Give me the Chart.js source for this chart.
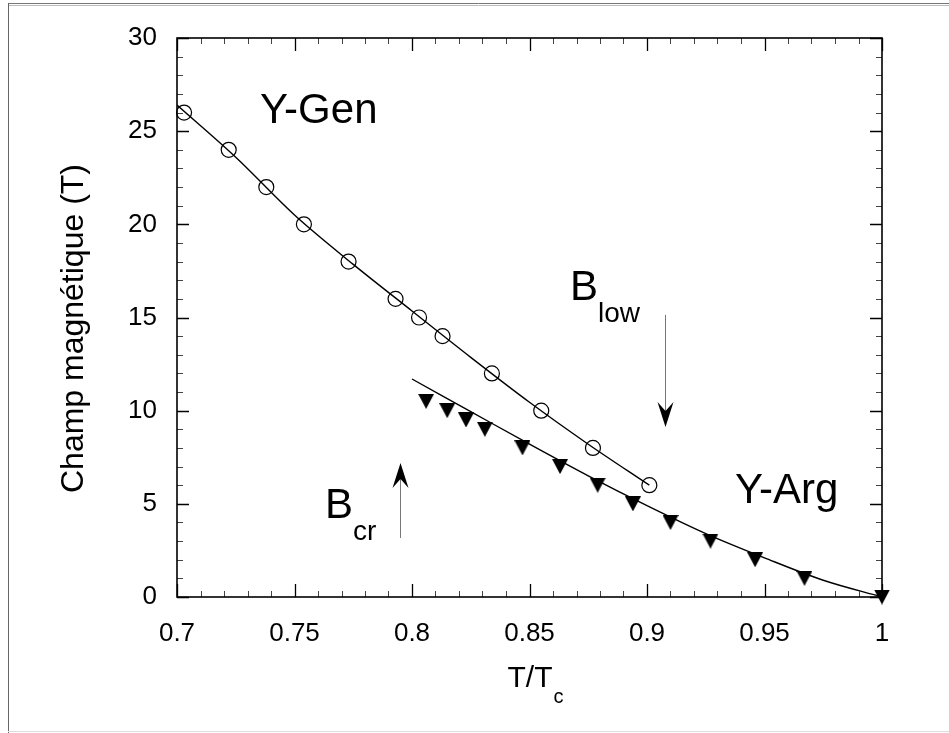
<!DOCTYPE html>
<html lang="fr">
<head>
<meta charset="UTF-8">
<title>Champ magnétique - Y-Gen / Y-Arg</title>
<script src="https://cdn.jsdelivr.net/npm/chart.js@4.4.0/dist/chart.umd.min.js"></script>
<style>
    html, body { margin: 0; padding: 0; background: #fff; }
    .chart-box { position: relative; width: 949px; height: 733px; }
</style>
</head>
<body>
<div class="chart-box"><canvas id="fieldChart"></canvas></div>
<script>
// Y-Gen measurements (open circles)
const genT = [0.703, 0.722, 0.738, 0.754, 0.773, 0.793, 0.803, 0.813, 0.834, 0.855, 0.877, 0.901];
const genB = [26, 24, 22, 20, 18, 16, 15, 14, 12, 10, 8, 6];

// Y-Arg measurements (filled down triangles)
const argT = [0.806, 0.815, 0.823, 0.831, 0.847, 0.863, 0.879, 0.894, 0.910, 0.927, 0.946, 0.967, 1.0];
const argB = [10.5, 10, 9.5, 9, 8, 7, 6, 5, 4, 3, 2, 1, 0];

// fit curves
const fitGenT = [0.7, 0.725, 0.75, 0.775, 0.8, 0.825, 0.85, 0.875, 0.901];
const fitGenB = [26.4, 23.6, 20.5, 17.85, 15.35, 12.86, 10.45, 8.2, 6.0];
const fitArgT = [0.8, 0.825, 0.85, 0.875, 0.9, 0.925, 0.95, 0.975, 1.0];
const fitArgB = [11.7, 9.95, 8.2, 6.5, 4.9, 3.4, 2.1, 0.9, 0.0];

// axis ticks
const xTicks = [0.7, 0.75, 0.8, 0.85, 0.9, 0.95, 1];
const yTicks = [0, 5, 10, 15, 20, 25, 30];

const FONT = "'Liberation Sans', Arial, Helvetica, sans-serif";

const pts = (xs, ys) => xs.map((x, i) => ({ x: x, y: ys[i] }));

function downTriangle(w, h) {
    const c = document.createElement('canvas');
    c.width = w;
    c.height = h;
    const g = c.getContext('2d');
    g.fillStyle = '#000';
    g.beginPath();
    g.moveTo(0, 0);
    g.lineTo(w, 0);
    g.lineTo(w / 2, h);
    g.closePath();
    g.fill();
    return c;
}

// frame, inward ticks on all four sides, labels and arrows
const decorations = {
    id: 'decorations',
    beforeDraw(chart) {
        const ctx = chart.ctx;
        ctx.save();
        ctx.fillStyle = '#fff';
        ctx.fillRect(0, 0, chart.width, chart.height);
        ctx.lineWidth = 1;
        ctx.strokeStyle = '#777';
        ctx.beginPath(); ctx.moveTo(8, 3.5); ctx.lineTo(chart.width, 3.5); ctx.stroke();
        ctx.strokeStyle = '#bbb';
        ctx.beginPath(); ctx.moveTo(8, 5.5); ctx.lineTo(chart.width, 5.5); ctx.stroke();
        ctx.strokeStyle = '#666';
        ctx.beginPath(); ctx.moveTo(8.5, 3); ctx.lineTo(8.5, chart.height); ctx.stroke();
        ctx.strokeStyle = '#ddd';
        ctx.beginPath(); ctx.moveTo(8, 731.5); ctx.lineTo(chart.width, 731.5); ctx.stroke();
        ctx.restore();
    },
    afterDatasetsDraw(chart) {
        const ctx = chart.ctx;
        const { left, right, top, bottom } = chart.chartArea;
        const xs = chart.scales.x, ys = chart.scales.y;
        ctx.save();

        // minor ticks
        ctx.strokeStyle = '#444';
        ctx.lineWidth = 1;
        ctx.beginPath();
        for (let i = 1; i < 30; i++) {
            if (i % 5 === 0) continue;
            const px = Math.round(xs.getPixelForValue(0.7 + i * 0.01)) + 0.5;
            ctx.moveTo(px, bottom); ctx.lineTo(px, bottom - 6);
            ctx.moveTo(px, top); ctx.lineTo(px, top + 6);
            const py = Math.round(ys.getPixelForValue(i)) + 0.5;
            ctx.moveTo(left, py); ctx.lineTo(left + 6, py);
            ctx.moveTo(right, py); ctx.lineTo(right - 6, py);
        }
        ctx.stroke();

        // major ticks
        ctx.strokeStyle = '#000';
        ctx.lineWidth = 1.3;
        ctx.beginPath();
        xTicks.forEach(v => {
            const px = Math.round(xs.getPixelForValue(v)) + 0.5;
            ctx.moveTo(px, bottom); ctx.lineTo(px, bottom - 13);
            ctx.moveTo(px, top); ctx.lineTo(px, top + 13);
        });
        yTicks.forEach(v => {
            const py = Math.round(ys.getPixelForValue(v)) + 0.5;
            ctx.moveTo(left, py); ctx.lineTo(left + 12, py);
            ctx.moveTo(right, py); ctx.lineTo(right - 12, py);
        });
        ctx.stroke();

        // plot frame
        ctx.lineWidth = 1.6;
        ctx.strokeRect(left, top, right - left, bottom - top);

        // text labels inside the plot
        ctx.fillStyle = '#000';
        ctx.textBaseline = 'alphabetic';
        ctx.textAlign = 'left';
        const label = (main, sub, t, b) => {
            const px = xs.getPixelForValue(t), py = ys.getPixelForValue(b);
            ctx.font = '42px ' + FONT;
            ctx.fillText(main, px, py);
            if (sub) {
                const w = ctx.measureText(main).width;
                ctx.font = '28px ' + FONT;
                ctx.fillText(sub, px + w, py + 22);
            }
        };
        label('Y-Gen', '', 0.7353, 25.44);
        label('Y-Arg', '', 0.9374, 5.05);
        label('B', 'low', 0.8672, 15.94);
        label('B', 'cr', 0.763, 4.24);

        // arrows
        const arrow = (t, bFrom, bTo) => {
            const px = Math.round(xs.getPixelForValue(t)) + 0.5;
            const y0 = ys.getPixelForValue(bFrom), y1 = ys.getPixelForValue(bTo);
            const dir = y1 > y0 ? 1 : -1;
            ctx.strokeStyle = '#777';
            ctx.lineWidth = 1;
            ctx.beginPath();
            ctx.moveTo(px, y0);
            ctx.lineTo(px, y1 - dir * 12);
            ctx.stroke();
            ctx.fillStyle = '#000';
            ctx.beginPath();
            ctx.moveTo(px, y1);
            ctx.lineTo(px - 8, y1 - dir * 25);
            ctx.lineTo(px, y1 - dir * 16);
            ctx.lineTo(px + 8, y1 - dir * 25);
            ctx.closePath();
            ctx.fill();
        };
        arrow(0.9077, 15.14, 9.125);
        arrow(0.7949, 3.17, 7.19);

        // axis titles
        ctx.font = '30px ' + FONT;
        const cx = (left + right) / 2;
        ctx.fillText('T/T', cx - 22, 687);
        const tw = ctx.measureText('T/T').width;
        ctx.font = '20px ' + FONT;
        ctx.fillText('c', cx - 22 + tw + 1, 703);

        ctx.translate(83, (top + bottom) / 2 + 11);
        ctx.rotate(-Math.PI / 2);
        ctx.textAlign = 'center';
        ctx.font = '32px ' + FONT;
        ctx.fillText('Champ magnétique (T)', 0, 0);
        ctx.restore();
    }
};

const ctx = document.getElementById('fieldChart').getContext('2d');
new Chart(ctx, {
    type: 'scatter',
    data: {
        datasets: [
            {
                label: 'Y-Gen',
                data: pts(genT, genB),
                pointStyle: 'circle',
                pointRadius: 7.5,
                borderColor: '#000',
                borderWidth: 1.2,
                backgroundColor: 'rgba(0,0,0,0)',
                clip: false
            },
            {
                label: 'Y-Arg',
                data: pts(argT, argB),
                pointStyle: downTriangle(16, 15),
                clip: false
            },
            {
                label: 'Y-Gen fit',
                data: pts(fitGenT, fitGenB),
                showLine: true,
                pointRadius: 0,
                borderColor: '#000',
                borderWidth: 1.4,
                cubicInterpolationMode: 'monotone'
            },
            {
                label: 'Y-Arg fit',
                data: pts(fitArgT, fitArgB),
                showLine: true,
                pointRadius: 0,
                borderColor: '#000',
                borderWidth: 1.4,
                cubicInterpolationMode: 'monotone',
                clip: false
            }
        ]
    },
    options: {
        responsive: true,
        maintainAspectRatio: false,
        animation: false,
        layout: { padding: { top: 38, right: 67, left: 0, bottom: 0 } },
        plugins: {
            legend: { display: false },
            tooltip: { enabled: false }
        },
        scales: {
            x: {
                type: 'linear',
                min: 0.7,
                max: 1,
                afterFit: s => { s.height = 136; },
                afterBuildTicks: s => { s.ticks = xTicks.map(v => ({ value: v })); },
                grid: { display: false, drawTicks: false },
                border: { display: false },
                ticks: {
                    padding: 21,
                    color: '#000',
                    font: { family: FONT, size: 26 },
                    maxRotation: 0,
                    callback: v => String(Number(v.toFixed(2)))
                }
            },
            y: {
                type: 'linear',
                min: 0,
                max: 30,
                afterFit: s => { s.width = 177; },
                afterBuildTicks: s => { s.ticks = yTicks.map(v => ({ value: v })); },
                grid: { display: false, drawTicks: false },
                border: { display: false },
                ticks: {
                    padding: 20,
                    color: '#000',
                    font: { family: FONT, size: 26 },
                    callback: v => String(v)
                }
            }
        }
    },
    plugins: [decorations]
});
</script>
</body>
</html>
